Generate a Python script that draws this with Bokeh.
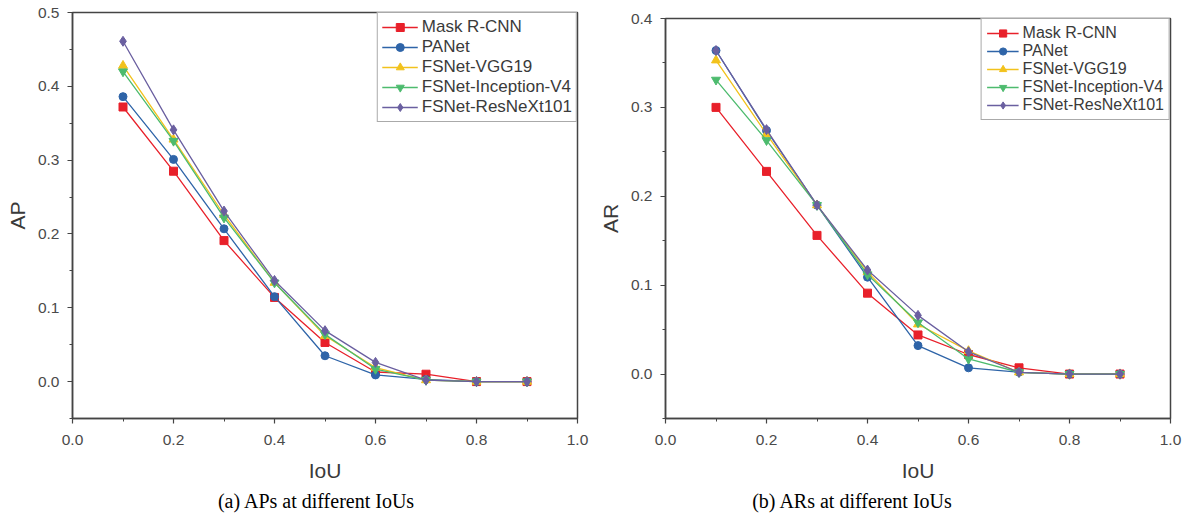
from bokeh.plotting import figure
from bokeh.layouts import row, column
from bokeh.models import Range1d, SingleIntervalTicker, CustomJSTickFormatter, Div
from bokeh.embed import file_html
from bokeh.resources import INLINE

iou = [0.1, 0.2, 0.3, 0.4, 0.5, 0.6, 0.7, 0.8, 0.9]
series_names = ["Mask R-CNN", "PANet", "FSNet-VGG19", "FSNet-Inception-V4", "FSNet-ResNeXt101"]

ap_mask = [0.372, 0.285, 0.191, 0.114, 0.053, 0.013, 0.010, 0.0, 0.0]
ap_panet = [0.386, 0.301, 0.207, 0.115, 0.035, 0.009, 0.003, 0.0, 0.0]
ap_vgg = [0.428, 0.328, 0.226, 0.134, 0.062, 0.019, 0.002, 0.0, 0.0]
ap_incep = [0.420, 0.326, 0.222, 0.134, 0.064, 0.017, 0.002, 0.0, 0.0]
ap_resnext = [0.461, 0.341, 0.231, 0.137, 0.069, 0.026, 0.002, 0.0, 0.0]

ar_mask = [0.300, 0.228, 0.156, 0.091, 0.044, 0.022, 0.007, 0.0, 0.0]
ar_panet = [0.364, 0.274, 0.190, 0.109, 0.032, 0.007, 0.002, 0.0, 0.0]
ar_vgg = [0.353, 0.270, 0.190, 0.115, 0.056, 0.026, 0.002, 0.0, 0.0]
ar_incep = [0.331, 0.263, 0.190, 0.112, 0.058, 0.017, 0.002, 0.0, 0.0]
ar_resnext = [0.364, 0.275, 0.190, 0.117, 0.066, 0.025, 0.002, 0.0, 0.0]

captions = ["(a) APs at different IoUs", "(b) ARs at different IoUs"]

colors = ["#e8202a", "#2e64a8", "#f2c21c", "#4dbb6e", "#6a5fa0"]
markers = ["square", "circle", "triangle", "inverted_triangle", "diamond"]
marker_sizes = [8, 8, 9, 9, 10]

TICK_FONT = "Liberation Sans"


def make_plot(series, ylabel, y_end, width, height, bl, br, bt, bb,
              legend_lh, legend_pad, legend_font, glyph_w):
    p = figure(width=width, height=height, output_backend="svg", toolbar_location=None,
               x_range=Range1d(0, 1.0), y_range=Range1d(-0.05, y_end),
               min_border_left=bl, min_border_right=br, min_border_top=bt, min_border_bottom=bb)
    p.xgrid.visible = False
    p.ygrid.visible = False
    p.outline_line_color = "#444444"
    p.outline_line_width = 1.5
    p.xaxis.ticker = SingleIntervalTicker(interval=0.2, num_minor_ticks=2)
    p.yaxis.ticker = SingleIntervalTicker(interval=0.1, num_minor_ticks=2)
    fmt = CustomJSTickFormatter(code="return tick.toFixed(1);")
    for ax in (p.xaxis[0], p.yaxis[0]):
        ax.formatter = fmt
        ax.axis_line_color = "#444444"
        ax.axis_line_width = 1.5
        ax.major_tick_line_color = "#444444"
        ax.minor_tick_line_color = "#444444"
        ax.major_tick_line_width = 1.2
        ax.minor_tick_line_width = 1.0
        ax.major_tick_out = 5
        ax.major_tick_in = 0
        ax.minor_tick_out = 3
        ax.minor_tick_in = 0
        ax.major_label_text_font = TICK_FONT
        ax.major_label_text_font_size = "15.5px"
        ax.major_label_text_color = "#4a4a4a"
        ax.axis_label_text_font = TICK_FONT
        ax.axis_label_text_font_style = "normal"
        ax.axis_label_text_font_size = "21px"
        ax.axis_label_text_color = "#3a3a3a"
    p.xaxis.axis_label = "IoU"
    p.yaxis.axis_label = ylabel
    p.xaxis.major_label_standoff = 11
    p.yaxis.major_label_standoff = 8
    p.xaxis.axis_label_standoff = 11
    p.yaxis.axis_label_standoff = 6

    for name, ys, c, m, s in zip(series_names, series, colors, markers, marker_sizes):
        p.line(iou, ys, line_color=c, line_width=1.3, legend_label=name)
        p.scatter(iou, ys, marker=m, size=s, fill_color=c, line_color=c, legend_label=name)

    lg = p.legend[0]
    lg.location = "top_right"
    lg.margin = 0
    lg.padding = legend_pad
    lg.spacing = 0
    lg.label_height = legend_lh
    lg.glyph_height = legend_lh
    lg.glyph_width = glyph_w
    lg.label_standoff = 4
    lg.label_text_font = TICK_FONT
    lg.label_text_font_size = legend_font
    lg.label_text_color = "#3a3a3a"
    lg.border_line_color = "#555555"
    lg.border_line_width = 1.2
    lg.background_fill_alpha = 1.0
    return p


def make_caption(text, width, pad_left, pad_right):
    html = ("<div style='width:%dpx;box-sizing:border-box;text-align:center;"
            "font-family:\"Liberation Serif\",serif;font-size:20px;line-height:26px;"
            "color:#000;padding-left:%dpx;padding-right:%dpx;white-space:nowrap;'>%s</div>"
            % (width, pad_left, pad_right, text))
    return Div(text=html, width=width, height=26, margin=(0, 0, 0, 0))


p1 = make_plot([ap_mask, ap_panet, ap_vgg, ap_incep, ap_resnext], "AP", 0.5,
               593, 488, 72, 16, 12, 70, 20, 4, "17px", 36)
p2 = make_plot([ar_mask, ar_panet, ar_vgg, ar_incep, ar_resnext], "AR", 0.4,
               591, 488, 72, 14, 18, 70, 18, 5, "16px", 32)

c1 = make_caption(captions[0], 593, 39, 0)
c2 = make_caption(captions[1], 591, 0, 73)

layout = row(column(p1, c1), column(p2, c2))
open("out.html", "w").write(file_html(layout, INLINE))
